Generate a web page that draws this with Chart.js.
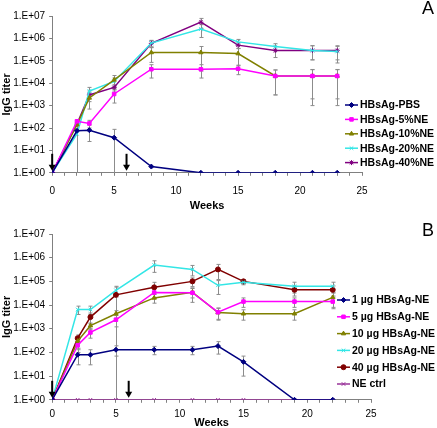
<!DOCTYPE html>
<html>
<head>
<meta charset="utf-8">
<script src="https://cdn.jsdelivr.net/npm/chart.js@4.4.1/dist/chart.umd.min.js"></script>
<style>
  body { margin: 0; background: #fff; }
  #wrap { position: relative; width: 437px; height: 428px; }
  canvas { position: absolute; left: 0; }
  #chartA { top: 0; }
  #chartB { top: 214px; }
</style>
</head>
<body>
<div id="wrap">
  <canvas id="chartA" width="437" height="214"></canvas>
  <canvas id="chartB" width="437" height="214"></canvas>
</div>
<script>
// y axis: decades 1 .. 1e7
const yTicks = [1, 10, 100, 1e3, 1e4, 1e5, 1e6, 1e7];
const yTickLabels = ['1.E+00', '1.E+01', '1.E+02', '1.E+03', '1.E+04', '1.E+05', '1.E+06', '1.E+07'];
const boostWeeks = [0, 6];

// panel A
const weeksA = [0, 2, 3, 5, 8, 12, 15, 18, 21, 23];
const pbsA = [1, 75, 80, 37, 1.9, 1, 1, 1, 1, 1];
const pbsSdA = [0, 80, 55, 50, 0, 0, 0, 0, 0, 0];
const ne5A = [1, 200, 160, 3300, 42000, 42000, 44000, 21000, 21000, 21000];
const ne5SdA = [0, 0, 60, 2000, 25000, 25000, 20000, 18000, 20000, 20000];
const ne10A = [1, 140, 2200, 14000, 235000, 235000, 210000, 21000, 21000, 21000];
const ne10SdA = [0, 0, 1500, 8000, 150000, 200000, 150000, 18000, 19000, 19000];
const ne20A = [1, 55, 4500, 12000, 620000, 2600000, 700000, 430000, 290000, 260000];
const ne20SdA = [0, 0, 2000, 5000, 200000, 1500000, 200000, 150000, 180000, 180000];
const ne40A = [1, 150, 3000, 6500, 600000, 5300000, 500000, 290000, 290000, 290000];
const ne40SdA = [0, 0, 1500, 2000, 200000, 2500000, 150000, 150000, 180000, 180000];
const labelsA = ['HBsAg-PBS', 'HBsAg-5%NE', 'HBsAg-10%NE', 'HBsAg-20%NE', 'HBsAg-40%NE'];

// panel B
const weeksB = [0, 2, 3, 5, 8, 11, 13, 15, 19, 22];
const ug1B = [1, 80, 80, 130, 130, 130, 185, 40, 1, 1];
const ug1SdB = [0, 50, 50, 60, 50, 50, 100, 30, 0, 0];
const ug5B = [1, 200, 700, 2400, 34000, 33000, 5000, 14000, 14000, 14000];
const ug5SdB = [0, 100, 300, 1200, 15000, 20000, 2500, 6000, 6000, 6000];
const ug10B = [1, 300, 1350, 4300, 20000, 35000, 4800, 4300, 4300, 21000];
const ug10SdB = [0, 150, 400, 1500, 8000, 15000, 2500, 2000, 2000, 14000];
const ug20B = [1, 6500, 6500, 42000, 490000, 320000, 68000, 92000, 62000, 62000];
const ug20SdB = [0, 2500, 2500, 20000, 250000, 150000, 40000, 20000, 30000, 30000];
const ug40B = [1, 400, 3100, 27000, 56000, 100000, 320000, 100000, 44000, 44000];
const ug40SdB = [0, 150, 1500, 30000, 35000, 40000, 200000, 20000, 20000, 20000];
const ctrlB = [1, 1, 1, 1, 1, 1, 1, 1, 1, 1];
const labelsB = ['1 µg HBsAg-NE', '5 µg HBsAg-NE', '10 µg HBsAg-NE', '20 µg HBsAg-NE', '40 µg HBsAg-NE', 'NE ctrl'];

const FONT = 'Arial, "Liberation Sans", sans-serif';

function series(label, weeks, vals, sd, color, style) {
  return {
    label,
    data: weeks.map((w, i) => ({ x: w, y: vals[i] })),
    sd,
    borderColor: color,
    backgroundColor: color,
    pointStyle: style,
    pointRadius: 2.5,
    borderWidth: 1.5,
    pointBorderWidth: 1,
    tension: 0
  };
}

const errorBars = {
  id: 'errorBars',
  beforeDatasetsDraw(chart) {
    const { ctx, scales: { x, y } } = chart;
    ctx.save();
    ctx.strokeStyle = '#8c8c8c';
    ctx.lineWidth = 1;
    chart.data.datasets.forEach(ds => {
      if (!ds.sd) return;
      ds.data.forEach((p, i) => {
        const s = ds.sd[i];
        if (!s) return;
        const px = Math.round(x.getPixelForValue(p.x)) + 0.5;
        const top = y.getPixelForValue(p.y + s);
        const bot = y.getPixelForValue(Math.max(p.y - s, 1));
        ctx.beginPath();
        ctx.moveTo(px, top); ctx.lineTo(px, bot);
        ctx.moveTo(px - 2, top); ctx.lineTo(px + 2, top);
        if (p.y - s > 1) { ctx.moveTo(px - 2, bot); ctx.lineTo(px + 2, bot); }
        ctx.stroke();
      });
    });
    ctx.restore();
  },
  afterDraw(chart, args, opts) {
    const { ctx, scales: { x }, chartArea } = chart;
    ctx.save();
    // immunisation arrows
    ctx.strokeStyle = '#000';
    ctx.fillStyle = '#000';
    ctx.lineWidth = 2;
    boostWeeks.forEach(w => {
      const px = x.getPixelForValue(w);
      const yb = chartArea.bottom - 2;
      ctx.beginPath();
      ctx.moveTo(px, yb - 17); ctx.lineTo(px, yb - 5);
      ctx.stroke();
      ctx.beginPath();
      ctx.moveTo(px - 3.5, yb - 6); ctx.lineTo(px + 3.5, yb - 6); ctx.lineTo(px, yb);
      ctx.closePath(); ctx.fill();
    });
    // legend
    ctx.font = 'bold 10.5px ' + FONT;
    ctx.textBaseline = 'middle';
    chart.data.datasets.forEach((ds, i) => {
      const ly = opts.legendY + i * opts.legendGap;
      ctx.strokeStyle = ds.borderColor;
      ctx.fillStyle = ds.borderColor;
      ctx.lineWidth = 1.5;
      ctx.beginPath();
      ctx.moveTo(opts.legendX, ly); ctx.lineTo(opts.legendX + 13, ly);
      ctx.stroke();
      ctx.lineWidth = 1;
      Chart.helpers.drawPoint(ctx, { pointStyle: ds.pointStyle, radius: 2.5, borderWidth: 1, rotation: 0 }, opts.legendX + 6.5, ly);
      ctx.fillStyle = '#000';
      ctx.fillText(ds.label, opts.legendX + 15, ly + 0.5);
    });
    // panel letter
    ctx.font = '18px ' + FONT;
    ctx.textAlign = 'center';
    ctx.fillText(opts.letter, 428, opts.letterY);
    ctx.restore();
  }
};

function makeChart(id, datasets, opts) {
  return new Chart(document.getElementById(id), {
    type: 'line',
    data: { datasets },
    plugins: [errorBars],
    options: {
      responsive: false,
      animation: false,
      layout: { padding: opts.padding },
      plugins: {
        legend: { display: false },
        tooltip: { enabled: false },
        errorBars: opts.extra
      },
      scales: {
        x: {
          type: 'linear', min: 0, max: 25,
          grid: { drawOnChartArea: false, color: '#808080', tickLength: 3 },
          border: { color: '#808080' },
          ticks: {
            stepSize: 1, autoSkip: false, maxRotation: 0, padding: opts.xPad,
            color: '#000', font: { family: FONT, size: 10 },
            callback: v => (v % 5 === 0 ? v : '')
          },
          title: { display: true, text: 'Weeks', color: '#000', padding: { top: opts.titlePad, bottom: 0 }, font: { family: FONT, size: 11, weight: 'bold' } }
        },
        y: {
          type: 'logarithmic', min: 1, max: 1e7,
          afterBuildTicks: s => { s.ticks = yTicks.map(v => ({ value: v })); },
          grid: { drawOnChartArea: false, color: '#808080', tickLength: 3 },
          border: { color: '#808080' },
          ticks: {
            padding: 4, color: '#000', font: { family: FONT, size: 10 },
            callback: v => yTickLabels[yTicks.indexOf(v)]
          },
          title: { display: true, text: 'IgG titer', color: '#000', padding: { top: 0, bottom: -4 }, font: { family: FONT, size: 11, weight: 'bold' } }
        }
      }
    }
  });
}

makeChart('chartA', [
  series(labelsA[0], weeksA, pbsA, pbsSdA, '#000080', 'rectRot'),
  series(labelsA[1], weeksA, ne5A, ne5SdA, '#ff00ff', 'rect'),
  series(labelsA[2], weeksA, ne10A, ne10SdA, '#808000', 'triangle'),
  series(labelsA[3], weeksA, ne20A, ne20SdA, '#33e6e6', 'crossRot'),
  series(labelsA[4], weeksA, ne40A, ne40SdA, '#800080', 'star')
], {
  padding: { top: 16, right: 75, left: 0, bottom: 1 },
  xPad: 9, titlePad: -6,
  extra: { legendX: 345, legendY: 105, legendGap: 14.4, letter: 'A', letterY: 9 }
});

makeChart('chartB', [
  series(labelsB[0], weeksB, ug1B, ug1SdB, '#000080', 'rectRot'),
  series(labelsB[1], weeksB, ug5B, ug5SdB, '#ff00ff', 'rect'),
  series(labelsB[2], weeksB, ug10B, ug10SdB, '#808000', 'triangle'),
  series(labelsB[3], weeksB, ug20B, ug20SdB, '#33e6e6', 'crossRot'),
  series(labelsB[4], weeksB, ug40B, ug40SdB, '#800000', 'circle'),
  series(labelsB[5], weeksB, ctrlB, null, '#993399', 'crossRot')
], {
  padding: { top: 20, right: 66, left: 0, bottom: -2 },
  xPad: 5, titlePad: -8,
  extra: { legendX: 337, legendY: 86, legendGap: 16.8, letter: 'B', letterY: 17 }
});
</script>
</body>
</html>
